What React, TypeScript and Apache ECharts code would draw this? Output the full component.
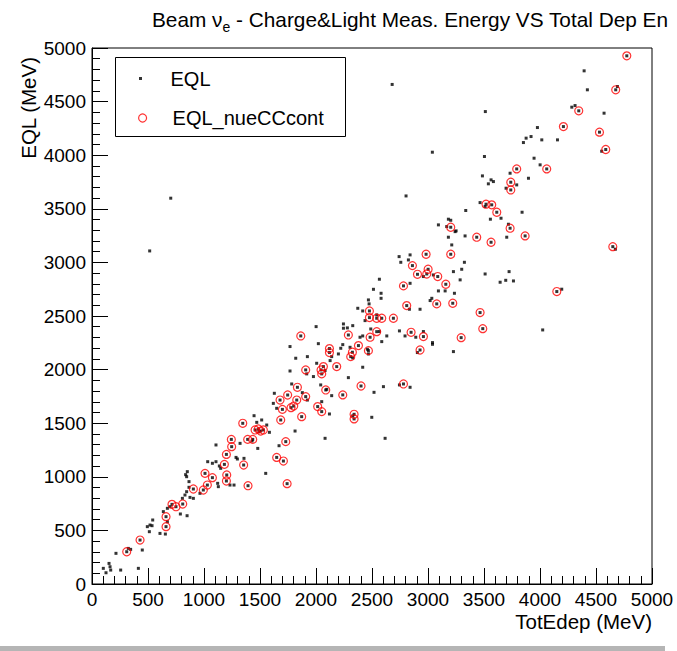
import React, { useEffect, useRef } from "react";
import * as echarts from "echarts";

const FONT = '"Liberation Sans", Arial, Helvetica, sans-serif';

const titleLead = "Beam ν";
const titleSub = "e";
const titleRest = " - Charge&Light Meas. Energy VS Total Dep En";
const xTitle = "TotEdep (MeV)";
const yTitle = "EQL (MeV)";
const seriesNames = ["EQL", "EQL_nueCCcont"];

const axisMin = 0;
const axisMax = 5000;
const axisStep = 500;

// EQL_nueCCcont points [TotEdep, EQL] (MeV)
const nuePoints: [number, number][] = [
  [310, 301], [429, 410], [661, 535], [661, 628], [714, 743], [750, 721], [810, 746],
  [905, 886], [994, 877], [1009, 1032], [1030, 923], [1075, 992], [1182, 1116], [1200, 1209],
  [1247, 1281], [1244, 1349], [1203, 1017], [1200, 961], [1354, 1110], [1393, 917], [1346, 1499],
  [1390, 1349], [1435, 1349], [1456, 1437], [1485, 1446], [1506, 1427], [1530, 1437], [1685, 1530],
  [1679, 1716], [1700, 1629], [1747, 1763], [1777, 1645], [1801, 1660], [1828, 1716], [1834, 1835],
  [1908, 1748], [1872, 1561], [1730, 1328], [1649, 1181], [1709, 1147], [1742, 936],
  [3435, 3235], [3563, 3188], [2983, 3076], [3203, 3076], [2861, 2970], [2906, 2889], [3001, 2936],
  [2989, 2892], [3087, 2868], [3159, 2796], [2781, 2781], [2810, 2597], [3078, 2613], [3221, 2619],
  [2477, 2547], [2477, 2485], [2542, 2479], [2587, 2479], [2691, 2479], [3465, 2532], [3489, 2382],
  [2542, 2354], [2289, 2323], [2483, 2302], [2849, 2348], [2959, 2308], [3296, 2298], [2379, 2224],
  [2468, 2177], [2929, 2183], [1864, 2314], [2120, 2196], [2120, 2159], [2325, 2162], [2310, 2121],
  [1908, 1997], [2066, 2028], [2045, 1997], [2051, 1960], [2185, 2028], [2402, 1847], [2781, 1866],
  [2087, 1810], [2239, 1764], [2015, 1655], [2051, 1608], [2340, 1583], [2340, 1540],
  [4775, 4927], [4676, 4610], [4346, 4414], [4209, 4267], [4531, 4215], [4587, 4053], [3792, 3872],
  [4060, 3872], [3739, 3748], [3739, 3676], [3518, 3543], [3569, 3537], [3614, 3468], [3733, 3319],
  [3203, 3328], [3867, 3247], [4650, 3147], [4150, 2728],
];

// EQL points that are not in the nueCC sample [TotEdep, EQL] (MeV)
const eqlOnlyPoints: [number, number][] = [
  [101, 146], [125, 105], [152, 192], [161, 161], [167, 130], [256, 130], [214, 286], [414, 146],
  [324, 332], [345, 323], [449, 317], [494, 535], [518, 550], [542, 597], [536, 544], [512, 488],
  [607, 472], [655, 466], [637, 675], [673, 706], [673, 581], [697, 721], [789, 653], [849, 637],
  [807, 799], [830, 830], [845, 861], [851, 1048], [845, 1001], [836, 1020], [866, 955], [866, 902],
  [875, 808], [905, 799], [964, 846], [1033, 1141], [1075, 1126], [1107, 1141], [1122, 939],
  [1128, 908], [1137, 1101], [1149, 1079], [1107, 1297], [1232, 923], [1268, 923], [1286, 1181],
  [1298, 1166], [1357, 1172], [1322, 1312], [1480, 1265], [1551, 1032], [1447, 1570], [1471, 1508],
  [1515, 1530], [1560, 1483], [1584, 1415], [1429, 1334], [1491, 1421], [1628, 1779], [1619, 1685],
  [1649, 1639], [1783, 1866], [1878, 1785], [1923, 1716], [1813, 1427], [1670, 1290],
  [3182, 3235], [3212, 3163], [3242, 3287], [3331, 3247], [3703, 3235], [2742, 3054], [2757, 3001],
  [2840, 3070], [2825, 3023], [2959, 2868], [3048, 2883], [3227, 2914], [3301, 2936], [3325, 3001],
  [3287, 2837], [3093, 2734], [3153, 2734], [3236, 2712], [3510, 2892], [3644, 2815], [3694, 2833],
  [3724, 2914], [3763, 2827], [2840, 2805], [2566, 2843], [2513, 2749], [2581, 2712], [2581, 2665],
  [2468, 2650], [2474, 2613], [2834, 2563], [2929, 2563], [3034, 2665], [3019, 2644], [2373, 2572],
  [2417, 2547], [2542, 2510], [2438, 2457], [2245, 2426], [2245, 2386], [2280, 2389], [2328, 2410],
  [2001, 2401], [2489, 2379], [2566, 2355], [2393, 2302], [2417, 2314], [2632, 2314], [2587, 2261],
  [2745, 2361], [2795, 2314], [2891, 2302], [2959, 2355], [3040, 2252], [3040, 2236], [2459, 2190],
  [2468, 2146], [2328, 2109], [2304, 2208], [2239, 2233], [2221, 2199], [2905, 2159], [3227, 2168],
  [1768, 2215], [1819, 2106], [1923, 2121], [2021, 2242], [2140, 2121], [2126, 2084], [2200, 2146],
  [2006, 2059], [1917, 1960], [1977, 1935], [1768, 1987], [2081, 1991], [2417, 2022], [2289, 1925],
  [2745, 1857], [2840, 1835], [2602, 1841], [2518, 1788], [2096, 1816], [2140, 1757], [2042, 1857],
  [2051, 1701], [2120, 1586], [2328, 1568], [2498, 1555], [2081, 1359], [2617, 1359],
  [4394, 4787], [4423, 4610], [4691, 4641], [4284, 4448], [4313, 4463], [4572, 4392], [3512, 4407],
  [3977, 4258], [3920, 4174], [3876, 4159], [3852, 4118], [4016, 4143], [4156, 4143], [4551, 4037],
  [3039, 4028], [3504, 3988], [3947, 3972], [4001, 3910], [3897, 3785], [3486, 3807], [3563, 3770],
  [3584, 3754], [3539, 3733], [3733, 3832], [3792, 3723], [3697, 3692], [3465, 3558], [3510, 3521],
  [3337, 3484], [3840, 3468], [3557, 3403], [3652, 3412], [3718, 3356], [3182, 3403], [3203, 3393],
  [3093, 3350], [3167, 3334], [3251, 3294], [4673, 3123], [4194, 2750], [4024, 2370],
  [515, 3107], [703, 3599], [2680, 4660], [2804, 3620],
];

const eqlPoints: [number, number][] = [...eqlOnlyPoints, ...nuePoints];

function axisCommon() {
  return {
    type: "value" as const,
    min: axisMin,
    max: axisMax,
    interval: axisStep,
    axisLine: { show: true, onZero: false, lineStyle: { color: "#000", width: 1 } },
    axisTick: { show: true, inside: true, length: 16, lineStyle: { color: "#000", width: 1 } },
    minorTick: { show: true, splitNumber: 5, length: 8, lineStyle: { color: "#000", width: 1 } },
    splitLine: { show: false },
    minorSplitLine: { show: false },
    axisLabel: {
      color: "#000",
      fontSize: 19,
      fontFamily: FONT,
      margin: 6,
      formatter: (v: number) => String(v),
    },
  };
}

export default function App() {
  const ref = useRef<HTMLDivElement>(null);
  useEffect(() => {
    document.body.style.margin = "0";
    if (!ref.current) return;
    const chart = echarts.init(ref.current, undefined, { renderer: "svg" });
    chart.setOption({
      animation: false,
      backgroundColor: "#fff",
      title: {
        text: `{a|${titleLead}}{s|${titleSub}}{a|${titleRest}}`,
        left: 152,
        top: 7,
        padding: 0,
        textStyle: {
          fontWeight: "normal",
          rich: {
            a: { fontSize: 20.8, fontFamily: FONT, fontWeight: "normal", color: "#000", lineHeight: 24 },
            s: { fontSize: 14, fontFamily: FONT, fontWeight: "normal", color: "#000", lineHeight: 14, padding: [13, 0, 0, 0], verticalAlign: "top" },
          },
        },
      },
      grid: { left: 92, right: 25, top: 48, bottom: 67, show: true, borderColor: "#000", borderWidth: 1 },
      xAxis: axisCommon(),
      yAxis: axisCommon(),
      legend: [
        {
          data: [{ name: seriesNames[0], icon: "path://M0 0H1V1H0Z", itemStyle: { color: "#000" } }],
          left: 139,
          top: 68.5,
          padding: 0,
          itemWidth: 50,
          itemHeight: 3,
          selectedMode: false,
          textStyle: { fontSize: 20, fontFamily: FONT, color: "#000" },
        },
        {
          data: [{ name: seriesNames[1], icon: "circle", itemStyle: { color: "rgba(0,0,0,0)", borderColor: "#ff0000", borderWidth: 1.2 } }],
          left: 138,
          top: 108,
          padding: 0,
          itemWidth: 50,
          itemHeight: 8,
          selectedMode: false,
          textStyle: { fontSize: 20, fontFamily: FONT, color: "#000" },
        },
      ],
      graphic: [
        { type: "rect", shape: { x: 115.5, y: 57.5, width: 230, height: 79 }, style: { fill: "none", stroke: "#000", lineWidth: 1 }, z: 10 },
        {
          type: "text", x: 28, y: 57, rotation: Math.PI / 2,
          style: { text: yTitle, fontSize: 20.5, fontFamily: FONT, fill: "#000", align: "right", verticalAlign: "middle" },
        },
        {
          type: "text", x: 652, y: 621,
          style: { text: xTitle, fontSize: 20.5, fontFamily: FONT, fill: "#000", align: "right", verticalAlign: "middle" },
        },
        { type: "rect", shape: { x: 0, y: 646, width: 665, height: 5 }, style: { fill: "#b5b5b5" } },
      ],
      series: [
        {
          type: "scatter",
          name: seriesNames[0],
          data: eqlPoints,
          symbol: "rect",
          symbolSize: 3,
          itemStyle: { color: "#000" },
          z: 2,
        },
        {
          type: "scatter",
          name: seriesNames[1],
          data: nuePoints,
          symbol: "circle",
          symbolSize: 8,
          itemStyle: { color: "rgba(0,0,0,0)", borderColor: "#ff0000", borderWidth: 1.2 },
          z: 3,
        },
      ],
    });
    return () => chart.dispose();
  }, []);
  return <div ref={ref} style={{ width: 677, height: 651 }} />;
}
